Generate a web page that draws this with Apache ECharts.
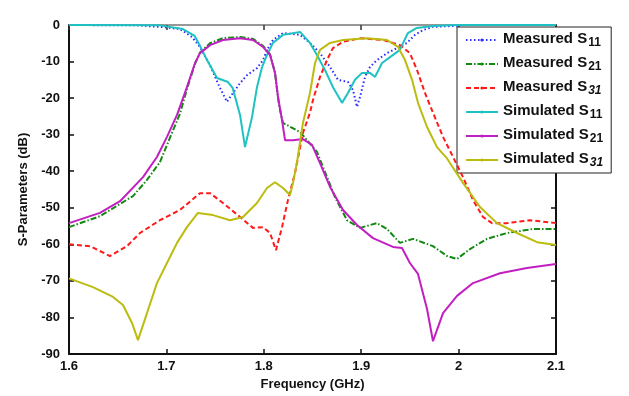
<!DOCTYPE html>
<html><head><meta charset="utf-8">
<script src="https://cdn.jsdelivr.net/npm/echarts@6/dist/echarts.min.js"></script>
<style>html,body{margin:0;padding:0;background:#fff}#c{width:629px;height:396px}</style>
</head><body><div id="c"></div>
<script>
// ---- data ----
const xTicks = [1.6, 1.7, 1.8, 1.9, 2.0, 2.1];
const yTicks = [0, -10, -20, -30, -40, -50, -60, -70, -80, -90];

const measS11F = [1.6, 1.6698, 1.6934, 1.714, 1.7263, 1.7345, 1.7448, 1.755, 1.7622, 1.7684, 1.7756, 1.7828, 1.793, 1.7992, 1.8033, 1.8094, 1.8197, 1.8372, 1.8474, 1.8577, 1.868, 1.8762, 1.8864, 1.8916, 1.8957, 1.8988, 1.9039, 1.909, 1.9162, 1.9265, 1.9368, 1.947, 1.9552, 1.9634, 1.9737, 2.0];
const measS11V = [0, -0.1, -0.5, -1.1, -3.3, -6.0, -11.0, -17.2, -21.0, -18.6, -15.9, -13.7, -11.8, -9.6, -6.8, -4.1, -2.2, -2.7, -4.9, -7.7, -11.5, -15.0, -15.6, -17.8, -22.4, -19.7, -14.2, -11.5, -9.6, -7.7, -6.3, -4.9, -2.7, -1.4, -0.5, -0.2];

const measS21F = [1.6, 1.6318, 1.6657, 1.68, 1.6934, 1.7037, 1.714, 1.7211, 1.7294, 1.7345, 1.7448, 1.7581, 1.7756, 1.7889, 1.7992, 1.8064, 1.8115, 1.8156, 1.8197, 1.8372, 1.8505, 1.8546, 1.8649, 1.8731, 1.8854, 1.8988, 1.9162, 1.9265, 1.9398, 1.9532, 1.9737, 1.9881, 1.9984, 2.0117, 2.0292, 2.0497, 2.0764, 2.1];
const measS21V = [-55.3, -52.3, -46.8, -42.4, -37.5, -30.8, -24.2, -17.5, -10.6, -7.5, -5.0, -3.6, -3.3, -3.8, -5.7, -8.0, -13.0, -22.0, -26.8, -29.3, -33.4, -34.7, -41.6, -47.1, -53.4, -55.5, -54.2, -55.8, -59.6, -58.5, -60.5, -63.2, -64.0, -61.3, -58.5, -56.9, -55.8, -55.8];

const measS31F = [1.6, 1.6216, 1.6421, 1.6595, 1.6729, 1.6934, 1.714, 1.7345, 1.7448, 1.7581, 1.7756, 1.7889, 1.7992, 1.8064, 1.8125, 1.8187, 1.8248, 1.832, 1.8402, 1.8474, 1.8505, 1.8577, 1.8649, 1.871, 1.8813, 1.8988, 1.9224, 1.9398, 1.95, 1.9573, 1.9655, 1.9737, 1.984, 1.9943, 2.0045, 2.0148, 2.025, 2.0343, 2.0497, 2.0733, 2.1];
const measS31V = [-60.0, -60.5, -63.2, -60.5, -56.9, -53.4, -50.6, -46.0, -46.0, -48.7, -52.5, -55.5, -55.3, -56.9, -61.6, -55.3, -47.9, -40.5, -29.5, -24.0, -20.5, -14.2, -9.6, -6.3, -4.6, -3.6, -4.1, -5.5, -7.7, -12.3, -18.6, -24.0, -30.6, -36.1, -41.6, -47.9, -52.5, -54.2, -54.2, -53.4, -54.2];

const simS11F = [1.6, 1.6934, 1.717, 1.729, 1.7345, 1.7417, 1.752, 1.7632, 1.768, 1.7756, 1.7807, 1.7879, 1.793, 1.7982, 1.8033, 1.8094, 1.8197, 1.8372, 1.8474, 1.8546, 1.8628, 1.871, 1.8803, 1.8864, 1.8936, 1.9008, 1.909, 1.9142, 1.9214, 1.9296, 1.9398, 1.943, 1.948, 1.957, 1.9737, 1.998, 2.1];
const simS11V = [0, -0.1, -1.1, -3.0, -5.7, -9.6, -14.5, -15.6, -17.2, -24.6, -33.4, -25.2, -17.0, -11.5, -8.2, -4.9, -2.7, -1.9, -4.9, -8.2, -12.3, -17.0, -21.3, -18.6, -15.0, -13.1, -13.1, -14.2, -10.4, -8.8, -6.8, -4.9, -2.2, -0.8, -0.3, 0, 0];

const simS21F = [1.6, 1.6318, 1.6524, 1.676, 1.6903, 1.7006, 1.7109, 1.7211, 1.7294, 1.7345, 1.7448, 1.7581, 1.7756, 1.7889, 1.7992, 1.8064, 1.8115, 1.8146, 1.8187, 1.8218, 1.83, 1.8402, 1.8495, 1.8577, 1.868, 1.8813, 1.8957, 1.9121, 1.9326, 1.9419, 1.95, 1.9583, 1.9676, 1.9737, 1.984, 1.9984, 2.0148, 2.0425, 2.0702, 2.1];
const simS21V = [-54.2, -51.4, -48.2, -41.6, -36.1, -30.6, -24.6, -17.0, -10.4, -7.7, -5.5, -4.1, -3.6, -4.1, -6.0, -8.2, -13.1, -19.7, -26.0, -31.5, -31.5, -31.2, -32.8, -37.8, -44.3, -50.6, -54.7, -58.3, -60.7, -61.0, -65.1, -68.1, -77.7, -86.5, -78.8, -74.1, -70.6, -67.9, -66.5, -65.4];

const simS31F = [1.6, 1.6246, 1.6452, 1.6554, 1.6647, 1.6708, 1.6801, 1.6903, 1.7006, 1.7109, 1.7211, 1.7324, 1.7478, 1.7653, 1.7786, 1.793, 1.8033, 1.8115, 1.8197, 1.8269, 1.83, 1.8341, 1.8402, 1.8474, 1.8526, 1.8577, 1.868, 1.8813, 1.906, 1.9265, 1.9378, 1.945, 1.9522, 1.9583, 1.9676, 1.9778, 1.9881, 2.0045, 2.022, 2.0394, 2.06, 2.0805, 2.1];
const simS31V = [-69.3, -71.7, -74.4, -76.6, -81.5, -86.2, -78.8, -70.6, -65.1, -59.6, -55.3, -51.4, -52.0, -53.4, -52.5, -48.7, -44.6, -43.0, -44.6, -46.5, -43.2, -37.5, -26.8, -18.6, -10.4, -6.8, -4.9, -4.1, -3.6, -4.1, -6.0, -9.6, -15.0, -21.3, -27.9, -33.4, -36.5, -43.2, -49.8, -54.2, -56.9, -59.4, -60.2];

const seriesNames = ['Measured S11', 'Measured S21', 'Measured S31', 'Simulated S11', 'Simulated S21', 'Simulated S31'];

// ---- build ----
const zip = (f, v) => f.map((x, i) => [x, v[i]]);
const FONT = '"Liberation Sans", Arial, sans-serif';

const defs = [
  {f: measS11F, v: measS11V, color: '#2a2aff', type: [1.5, 2.5]},
  {f: measS21F, v: measS21V, color: '#128a12', type: [6, 2, 1.5, 2]},
  {f: measS31F, v: measS31V, color: '#ff1a1a', type: [5, 3]},
  {f: simS11F, v: simS11V, color: '#1fc2c2', type: 'solid'},
  {f: simS21F, v: simS21V, color: '#c21fc2', type: 'solid'},
  {f: simS31F, v: simS31V, color: '#bcbc10', type: 'solid'}
];

const series = defs.map((d, i) => ({
  name: seriesNames[i],
  type: 'line',
  data: zip(d.f, d.v),
  showSymbol: false,
  symbol: 'circle',
  symbolSize: 1,
  smooth: false,
  animation: false,
  itemStyle: {color: d.color},
  lineStyle: {color: d.color, width: 2, type: d.type},
  z: 2 + i
}));

const chart = echarts.init(document.getElementById('c'), null, {renderer: 'canvas'});
const axisLbl = {fontFamily: FONT, fontWeight: 'bold', fontSize: 13, color: '#111'};

chart.setOption({
  animation: false,
  backgroundColor: '#fff',
  grid: {left: 69, top: 25, right: 73, bottom: 42, containLabel: false},
  legend: {
    orient: 'vertical',
    left: 457, top: 27,
    backgroundColor: '#fff',
    borderColor: '#222', borderWidth: 1,
    padding: [4, 8, 4, 8],
    itemWidth: 32, itemHeight: 4, itemGap: 6,
    data: seriesNames,
    formatter: function (name) {
      const parts = name.split(' S');
      const sub = parts[1];
      const subStyle = sub === '31' ? 'si' : 's';
      return '{m|' + parts[0] + ' S}{' + subStyle + '|' + sub + '}';
    },
    textStyle: {
      rich: {
        m: {fontFamily: FONT, fontWeight: 'bold', fontSize: 15, color: '#111', lineHeight: 18, verticalAlign: 'top'},
        s: {fontFamily: FONT, fontWeight: 'bold', fontSize: 12, color: '#111', lineHeight: 18, verticalAlign: 'bottom', padding: [6, 0, 0, 1]},
        si: {fontFamily: FONT, fontWeight: 'bold', fontStyle: 'italic', fontSize: 12, color: '#111', lineHeight: 18, verticalAlign: 'bottom', padding: [6, 0, 0, 1]}
      }
    }
  },
  xAxis: [{
    type: 'value', min: 1.6, max: 2.1, interval: 0.1,
    name: 'Frequency (GHz)', nameLocation: 'middle', nameGap: 24,
    nameTextStyle: {fontFamily: FONT, fontWeight: 'bold', fontSize: 13, color: '#111'},
    axisLine: {show: true, onZero: false, lineStyle: {color: '#111', width: 2}},
    axisTick: {show: true, inside: true, length: 5, lineStyle: {color: '#111', width: 1.5}},
    axisLabel: Object.assign({margin: 6, formatter: v => String(Math.round(v * 10) / 10)}, axisLbl),
    splitLine: {show: false}
  }, {
    type: 'value', min: 1.6, max: 2.1, interval: 0.1, position: 'top',
    axisLine: {show: true, onZero: false, lineStyle: {color: '#777', width: 1.5}},
    axisTick: {show: true, inside: true, length: 5, lineStyle: {color: '#333', width: 1.5}},
    axisLabel: {show: false}, splitLine: {show: false}
  }],
  yAxis: [{
    type: 'value', min: -90, max: 0, interval: 10,
    name: 'S-Parameters (dB)', nameLocation: 'middle', nameGap: 38, nameRotate: 90,
    nameTextStyle: {fontFamily: FONT, fontWeight: 'bold', fontSize: 13, color: '#111'},
    axisLine: {show: true, onZero: false, lineStyle: {color: '#111', width: 2}},
    axisTick: {show: true, inside: true, length: 5, lineStyle: {color: '#111', width: 1.5}},
    axisLabel: Object.assign({margin: 9}, axisLbl),
    splitLine: {show: false}
  }, {
    type: 'value', min: -90, max: 0, interval: 10, position: 'right',
    axisLine: {show: true, onZero: false, lineStyle: {color: '#111', width: 2}},
    axisTick: {show: true, inside: true, length: 5, lineStyle: {color: '#111', width: 1.5}},
    axisLabel: {show: false}, splitLine: {show: false}
  }],
  series: series
});
</script>
</body></html>
